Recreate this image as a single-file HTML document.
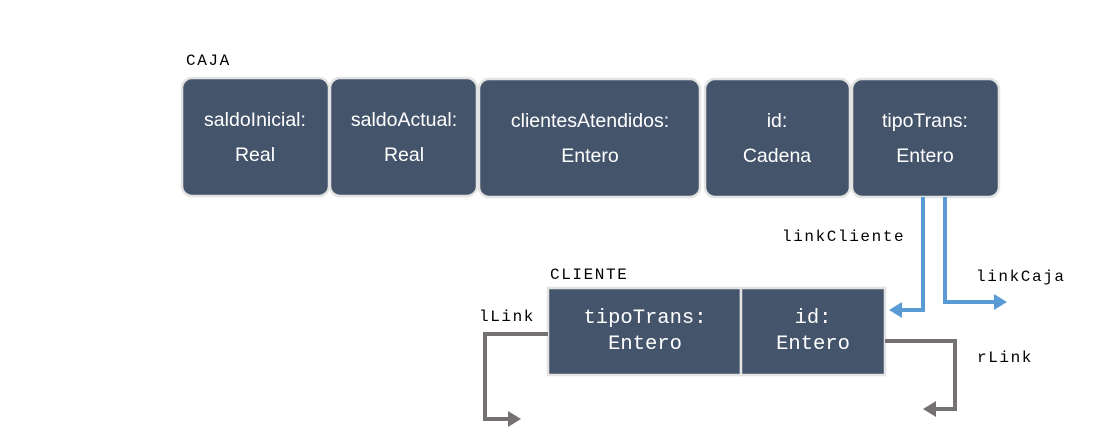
<!DOCTYPE html>
<html><head><meta charset="utf-8"><style>
html,body{margin:0;padding:0;background:#fff;width:1106px;height:435px;overflow:hidden}
.s{font-family:"Liberation Sans",sans-serif;font-size:19.5px;fill:#fff;text-anchor:middle}
.m{font-family:"Liberation Mono","DejaVu Sans Mono",monospace;font-size:20.5px;fill:#fff;text-anchor:middle}
.l{font-family:"Liberation Mono","DejaVu Sans Mono",monospace;font-size:16px;letter-spacing:1.6px;fill:#000}
</style></head><body>
<svg width="1106" height="435" xmlns="http://www.w3.org/2000/svg">
<g fill="#44546A" stroke="#E3E3E3" stroke-width="2.5">
<rect x="182" y="78" width="147" height="118" rx="10"/>
<rect x="330" y="78" width="147" height="118" rx="10"/>
<rect x="479" y="79" width="221" height="118" rx="10"/>
<rect x="705" y="79" width="145" height="118" rx="10"/>
<rect x="852" y="79" width="147" height="118" rx="10"/>
<rect x="548" y="288" width="193" height="87" rx="0"/>
<rect x="741" y="288" width="144" height="87" rx="0"/>
</g>
<text class="s" x="255" y="126">saldoInicial:</text><text class="s" x="255" y="161">Real</text>
<text class="s" x="404" y="126">saldoActual:</text><text class="s" x="404" y="161">Real</text>
<text class="s" x="590" y="127">clientesAtendidos:</text><text class="s" x="590" y="162">Entero</text>
<text class="s" x="777" y="127">id:</text><text class="s" x="777" y="162">Cadena</text>
<text class="s" x="925" y="127">tipoTrans:</text><text class="s" x="925" y="162">Entero</text>
<text class="m" x="645" y="323">tipoTrans:</text><text class="m" x="645" y="349">Entero</text>
<text class="m" x="813" y="323">id:</text><text class="m" x="813" y="349">Entero</text>
<text class="l" x="186" y="65">CAJA</text>
<text class="l" x="550" y="279">CLIENTE</text>
<text class="l" x="782" y="241">linkCliente</text>
<text class="l" x="976" y="281">linkCaja</text>
<text class="l" x="479" y="321">lLink</text>
<text class="l" x="977" y="362">rLink</text>
<g fill="none" stroke="#5B9BD5" stroke-width="4">
<polyline points="923,197 923,310 898,310"/>
<polyline points="945,197 945,302 998,302"/>
</g>
<g fill="#5B9BD5">
<polygon points="889,310 902,302 902,318"/>
<polygon points="1007,302 994,294 994,310"/>
</g>
<g fill="none" stroke="#767171" stroke-width="4">
<polyline points="548,334 485,334 485,419 510,419"/>
<polyline points="885,341 955,341 955,409 935,409"/>
</g>
<g fill="#767171">
<polygon points="521,419 508,411 508,427"/>
<polygon points="923,409 936,401 936,417"/>
</g>
</svg>
</body></html>
